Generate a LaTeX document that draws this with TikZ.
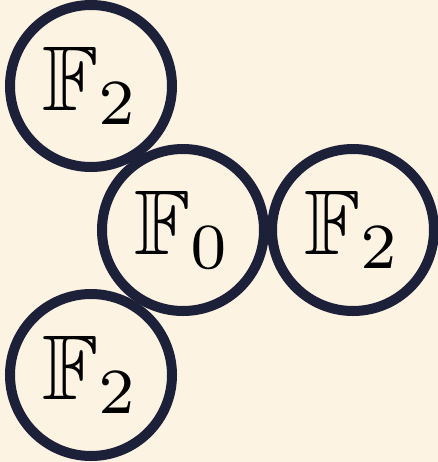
\documentclass[tikz,border=0pt]{standalone}
\usepackage{amsmath,amssymb,graphicx}
\usepackage{tikz}
\definecolor{paper}{HTML}{FDF3E3}
\definecolor{ink}{HTML}{1C2039}
\tikzset{
  field/.style={circle,draw=ink,line width=5pt,minimum size=81pt,inner sep=0pt}
}
\newcommand{\fieldlabel}[1]{\scalebox{4.6}{$\mathbb{F}_{#1}$}}

\begin{document}
\begin{tikzpicture}[x=0.5pt,y=-0.5pt]
  % background, fixes the margins
  \fill[paper] (0,0) rectangle (438,462);
  \useasboundingbox (0,0) rectangle (438,462);
  % the four fields
  \node[field] (top) at (91,86) {\fieldlabel{2}};
  \node[field] (mid) at (183,230) {\fieldlabel{0}};
  \node[field] (right) at (353,230) {\fieldlabel{2}};
  \node[field] (bot) at (91,375) {\fieldlabel{2}};
\end{tikzpicture}
\end{document}
